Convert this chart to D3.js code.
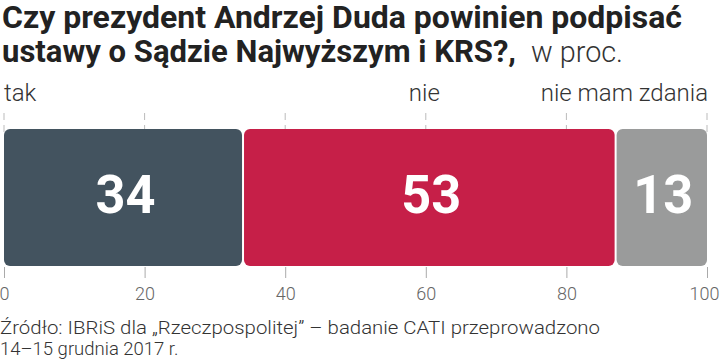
<!DOCTYPE html>
<html><head><meta charset="utf-8">
<script src="https://cdn.jsdelivr.net/npm/d3@7"></script>
<style>
html,body{margin:0;padding:0;background:#fff;}
svg{display:block;}
</style></head>
<body>
<script>
const categories = ["tak", "nie", "nie mam zdania"];
const values = [34, 53, 13];
const colors = ["#43535f", "#c61f48", "#9a9b9b"];
const ticks = [0, 20, 40, 60, 80, 100];
const titleLines = ["Czy prezydent Andrzej Duda powinien podpisać", "ustawy o Sądzie Najwyższym i KRS?,"];
const titleSuffix = "w proc.";
const sourceLines = ["Źródło: IBRiS dla „Rzeczpospolitej” – badanie CATI przeprowadzono", "14–15 grudnia 2017 r."];

const W = 720, H = 361;
const svg = d3.select("body").append("svg").attr("width", W).attr("height", H);
const x = d3.scaleLinear().domain([0, 100]).range([4, 707]);
const barTop = 129, barBottom = 266;

const font = "Roboto, 'Liberation Sans', sans-serif";
// title
svg.append("text").attr("x", 2).attr("y", 28).text(titleLines[0])
  .attr("font-family", font).attr("font-weight", 700).attr("font-size", 31).attr("fill", "#222")
  .attr("textLength", 680).attr("lengthAdjust", "spacingAndGlyphs");
svg.append("text").attr("x", 2).attr("y", 62).text(titleLines[1])
  .attr("font-family", font).attr("font-weight", 700).attr("font-size", 31).attr("fill", "#222")
  .attr("textLength", 514).attr("lengthAdjust", "spacingAndGlyphs");
svg.append("text").attr("x", 531).attr("y", 62).text(titleSuffix)
  .attr("font-family", font).attr("font-weight", 300).attr("font-size", 30).attr("fill", "#333")
  .attr("textLength", 92).attr("lengthAdjust", "spacingAndGlyphs");

// stacked data
let acc = 0;
const data = values.map((v, i) => { const d = {cat: categories[i], v, x0: acc, x1: acc + v, c: colors[i]}; acc += v; return d; });

// grid ticks above the bars
const g = svg.append("g");
g.selectAll("line.top").data(ticks).join("line")
  .attr("x1", d => x(d)).attr("x2", d => x(d)).attr("y1", 113).attr("y2", 120)
  .attr("stroke", "#bbb").attr("stroke-width", 1);
g.selectAll("line.mid").data(ticks).join("line")
  .attr("x1", d => x(d)).attr("x2", d => x(d)).attr("y1", 125).attr("y2", 132)
  .attr("stroke", "#bbb").attr("stroke-width", 1);

// bars
svg.selectAll("rect.bar").data(data).join("rect")
  .attr("x", d => x(d.x0) + (d.x0 > 0 ? 1 : 0))
  .attr("width", d => x(d.x1) - x(d.x0) - (d.x0 > 0 ? 1 : 0) - (d.x1 < 100 ? 1 : 0))
  .attr("y", barTop).attr("height", barBottom - barTop)
  .attr("rx", 6).attr("fill", d => d.c);

// values
svg.selectAll("text.val").data(data).join("text")
  .attr("x", d => (x(d.x0) + x(d.x1)) / 2 + 2).attr("y", 213)
  .attr("text-anchor", "middle").text(d => d.v)
  .attr("font-family", font).attr("font-weight", 700).attr("font-size", 53).attr("fill", "#fff")
  .attr("textLength", 60).attr("lengthAdjust", "spacingAndGlyphs");

// category labels
svg.selectAll("text.cat").data(data).join("text")
  .attr("x", (d, i) => i === 0 ? x(d.x0) : i === data.length - 1 ? x(d.x1) + 1 : (x(d.x0) + x(d.x1)) / 2 - 5)
  .attr("y", 101)
  .attr("text-anchor", (d, i) => i === 0 ? "start" : i === data.length - 1 ? "end" : "middle")
  .text(d => d.cat)
  .attr("font-family", font).attr("font-weight", 300).attr("font-size", 24).attr("fill", "#333");

// bottom axis
const axis = d3.axisBottom(x).tickValues(ticks).tickSize(11).tickPadding(9).tickFormat(d3.format("d"));
const ag = svg.append("g").attr("transform", `translate(0,${barBottom + 1})`).call(axis);
ag.select(".domain").remove();
ag.selectAll(".tick line").attr("stroke", "#aaa");
ag.selectAll(".tick text").attr("font-family", font).attr("font-weight", 300)
  .attr("font-size", 18).attr("fill", "#666")
  .attr("text-anchor", d => d === 100 ? "end" : "middle")
  .attr("dx", d => d === 100 ? 12 : 0);

// source
sourceLines.forEach((s, i) => {
  const t = svg.append("text").attr("x", 0).attr("y", 334 + i * 21).text(s)
    .attr("font-family", font).attr("font-weight", 300).attr("font-size", 18.5).attr("fill", "#333");
  if (i === 0) t.attr("textLength", 600).attr("lengthAdjust", "spacingAndGlyphs");
});
</script>
</body></html>
